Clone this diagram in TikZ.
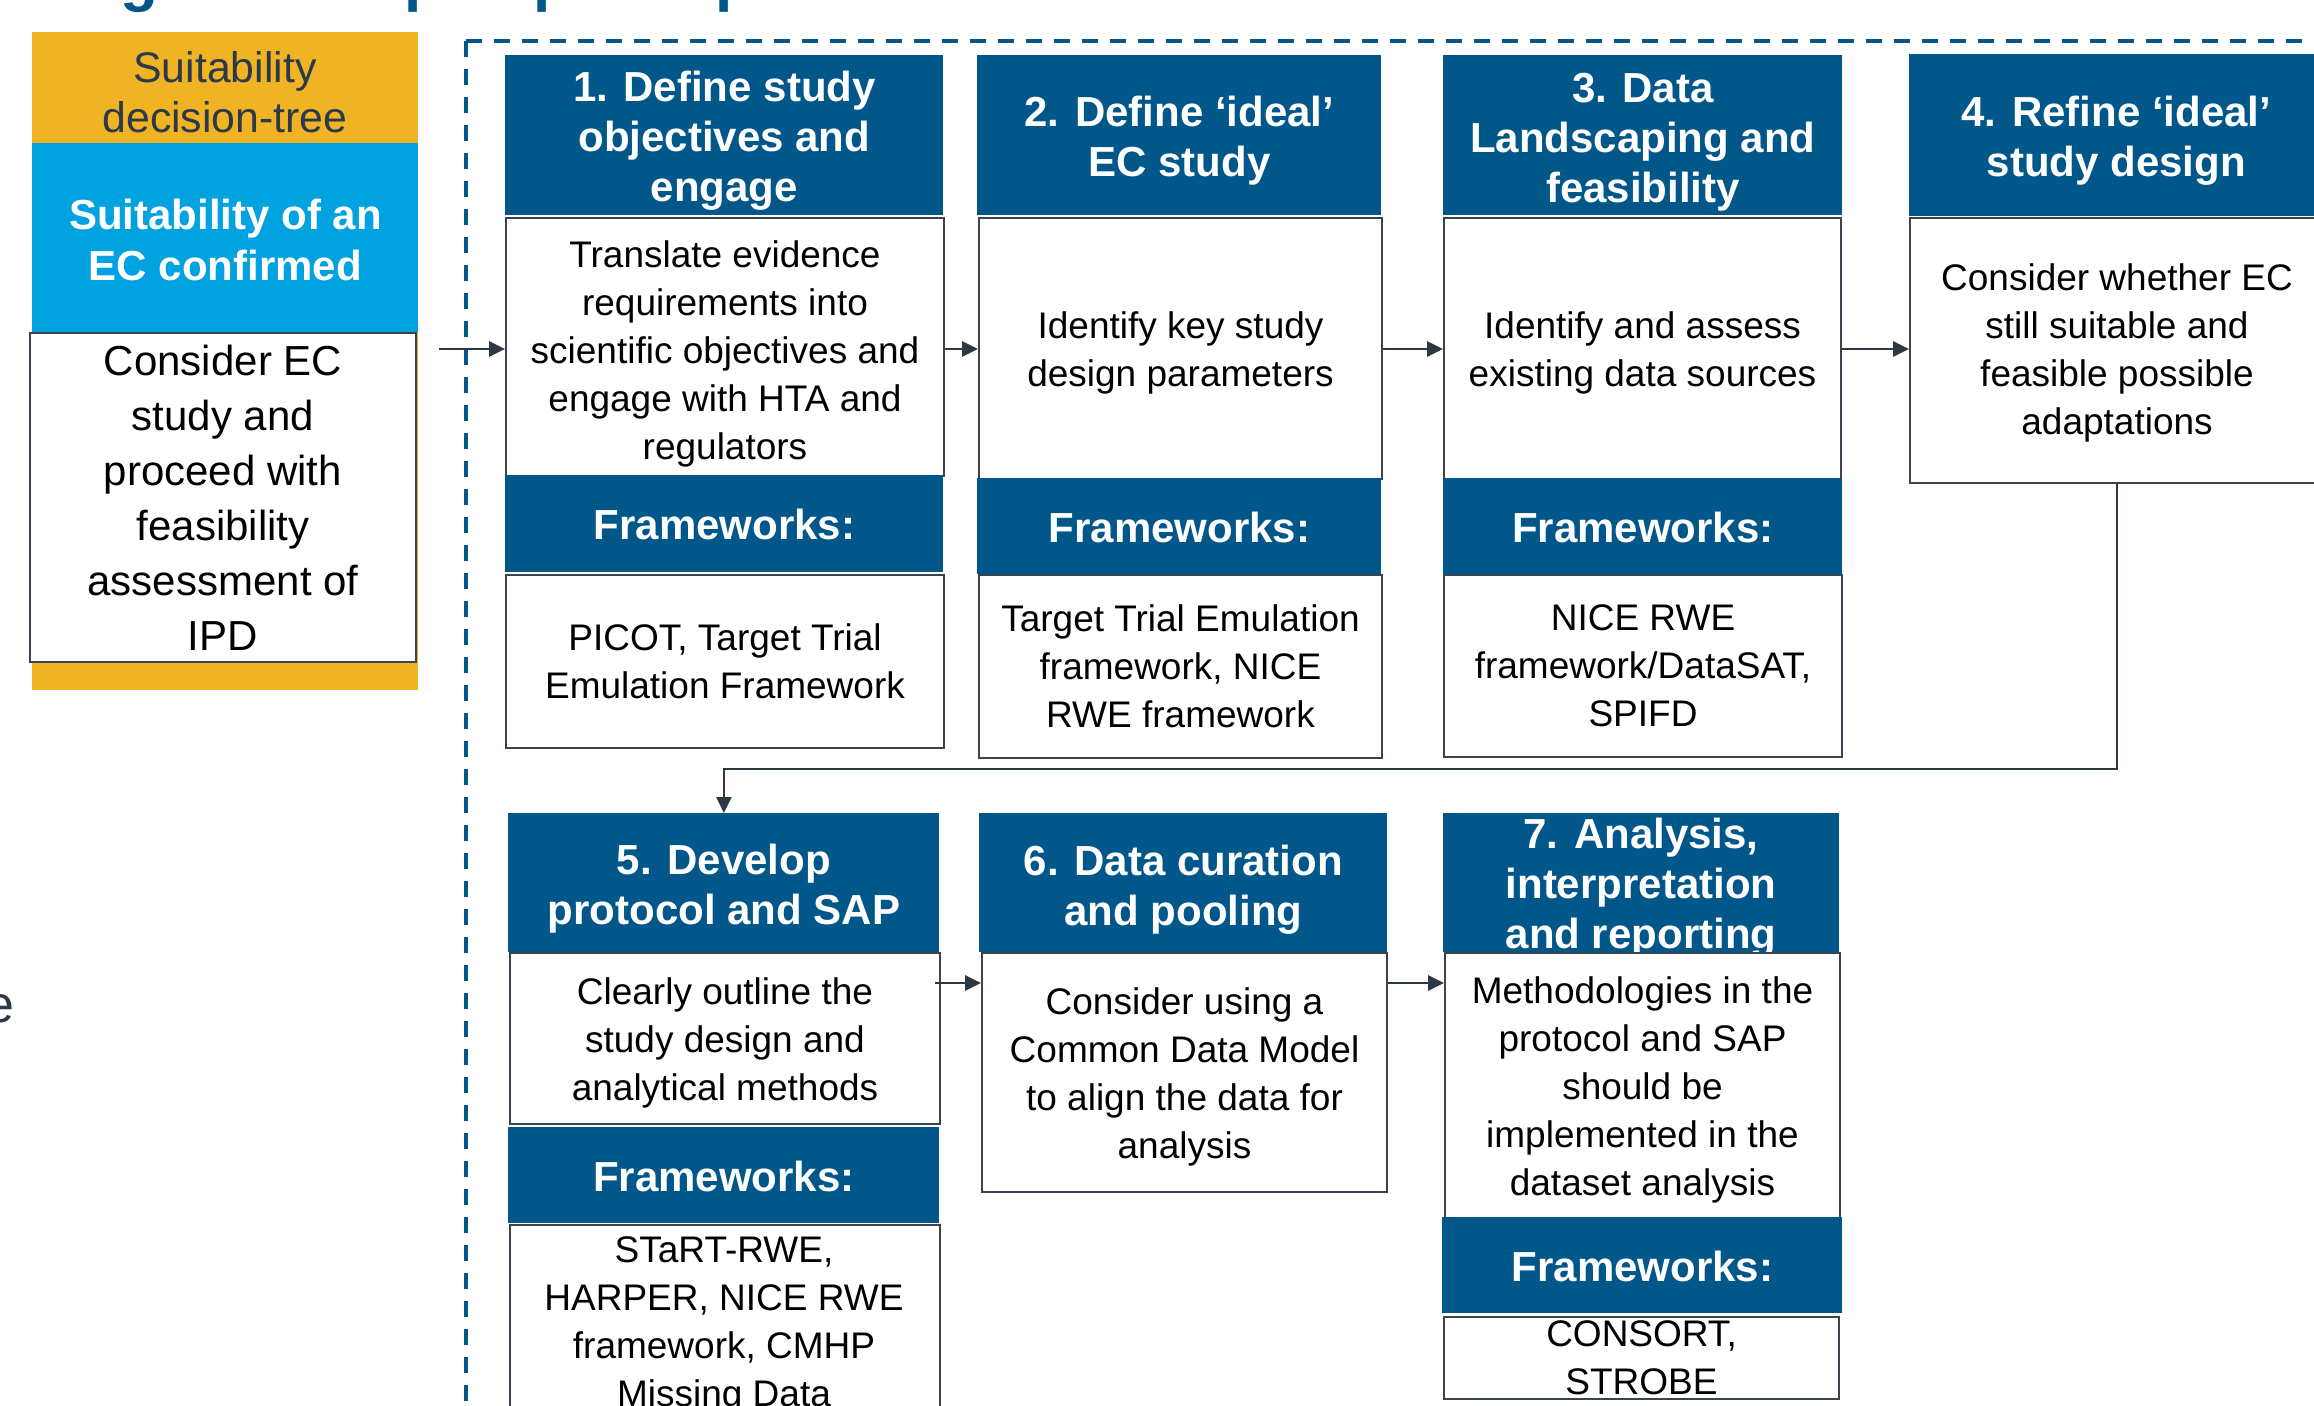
\documentclass[tikz,border=0pt]{standalone}
\usepackage{fontspec}
\setmainfont{Liberation Sans}
\usetikzlibrary{arrows.meta,calc}

\definecolor{hdrblue}{RGB}{1,87,137}
\definecolor{suitcyan}{RGB}{0,163,224}
\definecolor{suityellow}{RGB}{240,179,35}
\definecolor{slatetext}{RGB}{43,57,74}
\definecolor{edgegray}{RGB}{58,68,78}
\definecolor{lineslate}{RGB}{44,56,68}

% rectangular panel given by its corners, with its text set on top:
% name, box style, x1, y1, x2, y2, text style, text
\newcommand\panel[8]{%
  \node[#2, anchor=north west, inner sep=0pt,
        minimum width={(#5-(#3))*0.5pt}, minimum height={(#6-(#4))*0.5pt}]
        (#1) at (#3,#4) {};
  \node[#7] (#1t) at (#1.center) {#8};}

\begin{document}
\begin{tikzpicture}[x=0.5pt,y=-0.5pt,
  hdrbox/.style={fill=hdrblue},
  bodybox/.style={fill=white, draw=edgegray, line width=1pt},
  htxt/.style={text=white, align=center, inner sep=0pt, yshift=-2.6pt,
               font=\bfseries\fontsize{21}{25}\selectfont},
  fwtxt/.style={htxt, yshift=2.1pt},
  btxt/.style={text=black, align=center, inner sep=0pt, yshift=-2.2pt,
               font=\fontsize{18.5}{24}\selectfont},
  fbtxt/.style={btxt, yshift=2.2pt},
  flow/.style={draw=lineslate, line width=1.35pt,
               -{Triangle[length=8pt,width=7.5pt]}},
  dashline/.style={draw=hdrblue, line width=2pt, dash pattern=on 8pt off 6pt},
  titlebits/.style={text=hdrblue, inner sep=0pt,
                    font=\bfseries\fontsize{31}{36}\selectfont},
]
\useasboundingbox (0,0) rectangle (2314,1406);

% heading and side text running off the page edges
\node[titlebits, anchor=base west] (ttlg)  at (120,0) {g};
\node[titlebits, anchor=base west] (ttlp1) at (404,0) {p};
\node[titlebits, anchor=base west] (ttlp2) at (533,0) {p};
\node[titlebits, anchor=base west] (ttlp3) at (715,0) {p};
\node[text=slatetext, inner sep=0pt, anchor=base west,
      font=\fontsize{26}{30}\selectfont] (sidee) at (-15,1022) {e};

% suitability column
\panel{ybg}{fill=suityellow}{32}{32}{418}{690}{inner sep=0pt}{}
\node[text=slatetext, align=center, inner sep=0pt,
      font=\fontsize{21.4}{25}\selectfont] (ytxt) at (225,92.5)
      {Suitability\\decision-tree};
\panel{cbox}{fill=suitcyan}{32}{143}{418}{332}
      {text=white, align=center, inner sep=0pt, yshift=-1.1pt,
       font=\bfseries\fontsize{21}{25.5}\selectfont}
      {Suitability of an\\EC confirmed}
\panel{wbox}{bodybox}{29}{332}{415}{661}
      {text=black, align=center, inner sep=0pt,
       font=\fontsize{21}{27.5}\selectfont}
      {Consider EC\\study and\\proceed with\\feasibility\\assessment of\\IPD}

% dashed frame
\coordinate (fr) at (466,41);
\draw[dashline] (fr) -- (2330,41);
\draw[dashline] (fr) -- (466,1420);

% step 1
\panel{b1hdr}{hdrbox}{505}{55}{943}{215}{htxt}{1. Define study\\objectives and\\engage}
\panel{b1body}{bodybox}{505}{217}{943}{475}{btxt, yshift=-1.2pt}
  {Translate evidence\\requirements into\\scientific objectives and\\engage with HTA and\\regulators}
\panel{b1fwh}{hdrbox}{505}{475}{943}{572}{fwtxt}{Frameworks:}
\panel{b1fwb}{bodybox}{505}{574}{943}{747}{fbtxt}{PICOT, Target Trial\\Emulation Framework}

% step 2
\panel{b2hdr}{hdrbox}{977}{55}{1381}{215}{htxt}{2. Define ‘ideal’\\EC study}
\panel{b2body}{bodybox}{978}{217}{1381}{478}{btxt}{Identify key study\\design parameters}
\panel{b2fwh}{hdrbox}{977}{478}{1381}{574}{fwtxt}{Frameworks:}
\panel{b2fwb}{bodybox}{978}{574}{1381}{757}{fbtxt}
  {Target Trial Emulation\\framework, NICE\\RWE framework}

% step 3
\panel{b3hdr}{hdrbox}{1443}{55}{1842}{215}{htxt, yshift=-0.6pt}{3. Data\\Landscaping and\\feasibility}
\panel{b3body}{bodybox}{1443}{217}{1840}{478}{btxt}{Identify and assess\\existing data sources}
\panel{b3fwh}{hdrbox}{1443}{478}{1842}{574}{fwtxt}{Frameworks:}
\panel{b3fwb}{bodybox}{1443}{574}{1841}{756}{fbtxt}{NICE RWE\\framework/DataSAT,\\SPIFD}

% step 4
\panel{b4hdr}{hdrbox}{1909}{54}{2323}{216}{htxt}{4. Refine ‘ideal’\\study design}
\panel{b4body}{bodybox}{1909}{217}{2323}{482}{btxt, yshift=1pt}
  {Consider whether EC\\still suitable and\\feasible possible\\adaptations}

% step 5
\panel{b5hdr}{hdrbox}{508}{813}{939}{952}{htxt, yshift=-0.4pt}{5. Develop\\protocol and SAP}
\panel{b5body}{bodybox}{509}{952}{939}{1123}{btxt}
  {Clearly outline the\\study design and\\analytical methods}
\panel{b5fwh}{hdrbox}{508}{1127}{939}{1223}{fwtxt}{Frameworks:}
\panel{b5fwb}{bodybox}{509}{1224}{939}{1460}{inner sep=0pt}{}
\node[btxt, yshift=2.2pt, anchor=north] (b5fwt) at (724,1236.5)
  {STaRT-RWE,\\HARPER, NICE RWE\\framework, CMHP\\Missing Data};

% step 6
\panel{b6hdr}{hdrbox}{979}{813}{1387}{952}{htxt, yshift=-0.6pt}{6. Data curation\\and pooling}
\panel{b6body}{bodybox}{981}{952}{1386}{1191}{btxt}
  {Consider using a\\Common Data Model\\to align the data for\\analysis}

% step 7 (its heading runs down behind the panel below it)
\panel{b7hdr}{hdrbox}{1443}{813}{1839}{952}{inner sep=0pt}{}
\node[htxt, yshift=2.6pt, anchor=north] (b7t) at (1641,818)
  {7. Analysis,\\interpretation\\and reporting};
\panel{b7body}{bodybox}{1444}{952}{1839}{1217}{btxt}
  {Methodologies in the\\protocol and SAP\\should be\\implemented in the\\dataset analysis}
\panel{b7fwh}{hdrbox}{1442}{1217}{1842}{1313}{fwtxt}{Frameworks:}
\panel{b7fwb}{bodybox}{1443}{1316}{1838}{1398}{fbtxt}{CONSORT,\\STROBE}

% connectors
\coordinate (rowA) at (439,349);
\coordinate (rowB) at (935,983);
\coordinate (turn) at (2116,769);
\draw[flow] (rowA) -- (rowA -| b1body.west);
\draw[flow] (b1body.east |- rowA) -- (b2body.west |- rowA);
\draw[flow] (b2body.east |- rowA) -- (b3body.west |- rowA);
\draw[flow] (b3body.east |- rowA) -- (b4body.west |- rowA);
\draw[flow] (b4body.south) -- (b4body.south |- turn) -| (b5hdr.north);
\draw[flow] (rowB) -- (rowB -| b6body.west);
\draw[flow] (b6body.east |- rowB) -- (b7body.west |- rowB);
\end{tikzpicture}
\end{document}
